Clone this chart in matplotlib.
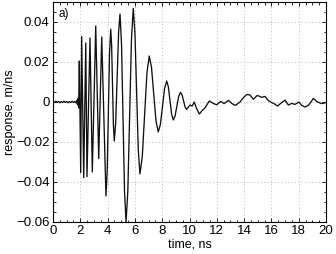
import matplotlib
matplotlib.use("Agg")
import matplotlib.pyplot as plt
from matplotlib.ticker import MultipleLocator

plt.rcParams['font.family'] = ['Liberation Sans', 'DejaVu Sans']

# time samples (ns) and response (m/ns)
t_pre = [0.0, 0.1, 0.2, 0.3, 0.4, 0.5, 0.6, 0.7, 0.8, 0.9, 1.0, 1.1, 1.2, 1.3,
         1.4, 1.5, 1.6, 1.7, 1.75, 1.8, 1.85, 1.88]
v_pre = [0.0002, -0.0003, 0.0004, -0.0002, 0.0003, -0.0004, 0.0002, -0.0003,
         0.0004, -0.0002, 0.0003, -0.0004, 0.0002, -0.0003, 0.0004, -0.0002,
         0.0003, -0.0005, 0.0008, -0.0015, 0.002, -0.003]

t_burst = [1.93, 2.03, 2.10, 2.25, 2.40, 2.49, 2.71, 2.88, 3.13, 3.35, 3.57,
           3.88, 3.97, 4.055, 4.14, 4.23, 4.295, 4.36, 4.425, 4.49, 4.595,
           4.70, 4.805, 4.91, 5.02, 5.13, 5.24, 5.35, 5.4825, 5.615, 5.7475,
           5.88, 6.0025, 6.125, 6.2475, 6.37, 6.54, 6.71, 6.88, 7.05, 7.215,
           7.38, 7.545, 7.71, 7.865, 8.02, 8.175, 8.33, 8.45, 8.57, 8.69, 8.81,
           8.9425, 9.075, 9.2075, 9.34, 9.4525, 9.565, 9.6775, 9.79]
v_burst = [0.0205, -0.0353, 0.0327, -0.0378, 0.0295, -0.0373, 0.032, -0.035,
           0.038, -0.0283, 0.0325, -0.047, -0.0348, -0.0053, 0.0242, 0.0364,
           0.0282, 0.0085, -0.0113, -0.0195, -0.0102, 0.0123, 0.0347, 0.044,
           0.0288, -0.008, -0.0448, -0.060, -0.0444, -0.0066, 0.0312, 0.0468,
           0.0347, 0.0054, -0.0239, -0.036, -0.0274, -0.0065, 0.0144, 0.023,
           0.0174, 0.004, -0.0094, -0.015, -0.0113, -0.0023, 0.0068, 0.0105,
           0.0076, 0.0008, -0.0061, -0.009, -0.0070, -0.0021, 0.0028, 0.0048,
           0.0036, 0.0006, -0.0025, -0.0037]

t_tail = [10.04, 10.2, 10.35, 10.5, 10.72, 10.9, 11.14, 11.45, 11.74, 11.99,
          12.29, 12.53, 12.86, 13.11, 13.37, 13.70, 13.99, 14.21, 14.43, 14.67,
          14.97, 15.29, 15.53, 15.77, 16.02, 16.19, 16.45, 16.75, 17.0, 17.24,
          17.49, 17.73, 18.02, 18.22, 18.46, 18.70, 18.90, 19.07, 19.38, 19.68,
          20.0]
v_tail = [-0.0015, -0.002, 0.0, -0.003, -0.006, -0.0045, -0.0029, 0.0005,
          -0.0007, -0.0014, 0.0003, -0.0008, 0.0008, -0.0008, -0.0017, 0.0,
          0.0025, 0.0038, 0.0035, 0.0014, 0.0033, 0.0023, 0.0028, 0.0008,
          -0.0003, -0.0008, -0.002, -0.0003, 0.0009, -0.0015, -0.0007, -0.0012,
          0.0, -0.0017, -0.0025, -0.0017, 0.0, 0.0018, 0.0, -0.0008, -0.0003]

x_ticks = [0, 2, 4, 6, 8, 10, 12, 14, 16, 18, 20]
y_ticks = [-0.06, -0.04, -0.02, 0, 0.02, 0.04]
y_labels = ['\u22120.06', '\u22120.04', '\u22120.02', '0', '0.02', '0.04']

fig = plt.figure(figsize=(3.36, 2.54), dpi=100)
ax = fig.add_axes([53/336, 32/254, 273/336, 220/254])

t = t_pre + t_burst + t_tail
v = v_pre + v_burst + v_tail
ax.plot(t, v, color='#111111', lw=0.95)

ax.set_xlim(0, 20)
ax.set_ylim(-0.06, 0.05)
ax.set_xticks(x_ticks)
ax.set_xticklabels([str(x) for x in x_ticks])
ax.set_yticks(y_ticks)
ax.set_yticklabels(y_labels)
ax.xaxis.set_minor_locator(MultipleLocator(0.5))
ax.yaxis.set_minor_locator(MultipleLocator(0.005))
ax.tick_params(which='both', direction='in', top=True, right=True,
               labelsize=9.5, pad=2.5, width=0.6)
ax.tick_params(which='major', length=3)
ax.tick_params(which='minor', length=1.8)
ax.grid(True, which='major', linestyle=(0, (1, 2.5)), color='#b8b8b8', lw=0.7)
for s in ax.spines.values():
    s.set_linewidth(0.8)

ax.set_xlabel('time, ns', fontsize=9, labelpad=1)
ax.set_ylabel('response, m/ns', fontsize=9, labelpad=0)
ax.text(0.02, 0.975, 'a)', transform=ax.transAxes, fontsize=8.5,
        ha='left', va='top')

fig.savefig('out.png', dpi=100)
